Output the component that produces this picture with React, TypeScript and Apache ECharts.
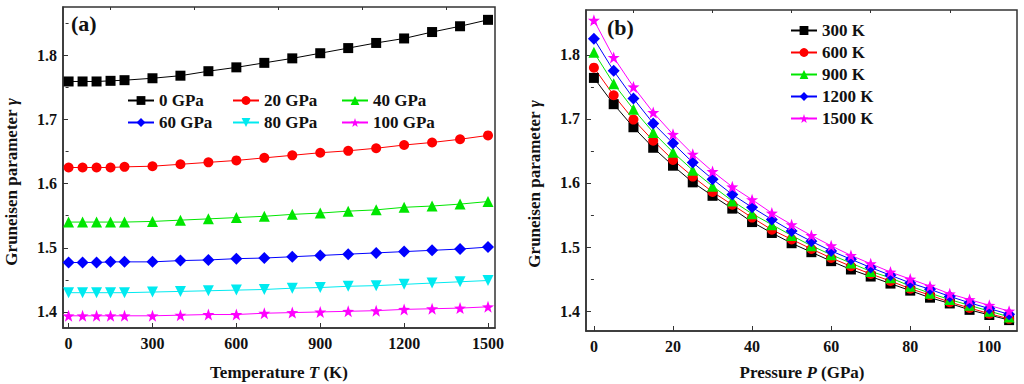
import React, { useEffect, useRef } from "react";
import * as echarts from "echarts";

// ---------- data ----------
const temps = [0, 50, 100, 150, 200, 300, 400, 500, 600, 700, 800, 900, 1000, 1100, 1200, 1300, 1400, 1500];
const gpa0 = [1.759, 1.759, 1.759, 1.760, 1.761, 1.764, 1.768, 1.775, 1.781, 1.788, 1.795, 1.803, 1.811, 1.819, 1.826, 1.836, 1.845, 1.855];
const gpa20 = [1.625, 1.625, 1.625, 1.625, 1.626, 1.627, 1.630, 1.633, 1.636, 1.640, 1.644, 1.648, 1.651, 1.655, 1.660, 1.664, 1.669, 1.675];
const gpa40 = [1.540, 1.540, 1.540, 1.540, 1.540, 1.541, 1.543, 1.545, 1.547, 1.549, 1.552, 1.554, 1.557, 1.559, 1.563, 1.565, 1.568, 1.572];
const gpa60 = [1.477, 1.477, 1.477, 1.478, 1.478, 1.478, 1.480, 1.481, 1.483, 1.484, 1.486, 1.488, 1.490, 1.492, 1.494, 1.496, 1.498, 1.501];
const gpa80 = [1.430, 1.430, 1.430, 1.430, 1.430, 1.431, 1.432, 1.433, 1.434, 1.435, 1.437, 1.438, 1.440, 1.441, 1.443, 1.445, 1.447, 1.449];
const gpa100 = [1.394, 1.394, 1.394, 1.394, 1.394, 1.394, 1.395, 1.396, 1.396, 1.398, 1.399, 1.400, 1.401, 1.402, 1.404, 1.405, 1.406, 1.408];

const pressures = [0, 5, 10, 15, 20, 25, 30, 35, 40, 45, 50, 55, 60, 65, 70, 75, 80, 85, 90, 95, 100, 105];
const k300 = [1.764, 1.723, 1.687, 1.655, 1.627, 1.601, 1.580, 1.560, 1.539, 1.522, 1.506, 1.492, 1.478, 1.465, 1.454, 1.443, 1.432, 1.421, 1.412, 1.402, 1.394, 1.386];
const k600 = [1.780, 1.737, 1.699, 1.666, 1.636, 1.610, 1.586, 1.566, 1.546, 1.527, 1.512, 1.497, 1.483, 1.470, 1.458, 1.447, 1.435, 1.425, 1.414, 1.405, 1.396, 1.388];
const k900 = [1.804, 1.755, 1.715, 1.679, 1.648, 1.620, 1.595, 1.572, 1.552, 1.535, 1.518, 1.502, 1.488, 1.475, 1.462, 1.452, 1.439, 1.428, 1.418, 1.409, 1.400, 1.391];
const k1200 = [1.825, 1.775, 1.732, 1.693, 1.662, 1.632, 1.606, 1.582, 1.562, 1.543, 1.525, 1.509, 1.494, 1.481, 1.468, 1.456, 1.444, 1.434, 1.423, 1.413, 1.404, 1.395];
const k1500 = [1.854, 1.796, 1.750, 1.710, 1.676, 1.645, 1.618, 1.594, 1.574, 1.553, 1.535, 1.518, 1.502, 1.487, 1.474, 1.461, 1.450, 1.439, 1.427, 1.418, 1.409, 1.400];

const leftNames = ["0 GPa", "20 GPa", "40 GPa", "60 GPa", "80 GPa", "100 GPa"];
const rightNames = ["300 K", "600 K", "900 K", "1200 K", "1500 K"];

const tempTicks = [0, 300, 600, 900, 1200, 1500];
const tempMinor = [150, 450, 750, 1050, 1350];
const presTicks = [0, 20, 40, 60, 80, 100];
const presMinor = [10, 30, 50, 70, 90];
const gammaTicks = [1.4, 1.5, 1.6, 1.7, 1.8];
const gammaMinor = [1.45, 1.55, 1.65, 1.75, 1.85];

// ---------- styles ----------
const STAR = "path://M50,0 L61.76,33.82 L97.55,34.55 L69.02,56.18 L79.39,90.45 L50,70 L20.61,90.45 L30.98,56.18 L2.45,34.55 L38.24,33.82 Z";
const colors = ["#000000", "#ff0000", "#00e600", "#0000ff", "#00eaf0", "#ff00ff"];
const rightColors = ["#000000", "#ff0000", "#00e600", "#0000ff", "#ff00ff"];
const symbols: any[] = [
  { symbol: "rect", size: 10, rotate: 0 },
  { symbol: "circle", size: 10, rotate: 0 },
  { symbol: "triangle", size: 11, rotate: 0 },
  { symbol: "diamond", size: 12, rotate: 0 },
  { symbol: "triangle", size: 11, rotate: 180 },
  { symbol: STAR, size: 12, rotate: 0 },
];
const rightSymbols = [symbols[0], symbols[1], symbols[2], symbols[3], symbols[5]];

const FONT = "'Liberation Serif', 'Times New Roman', serif";
const AXIS_COLOR = "#333";
const TEXT_COLOR = "#111";

export default function App() {
  const ref = useRef<HTMLDivElement>(null);

  useEffect(() => {
    if (!ref.current) return;
    const chart = echarts.init(ref.current, undefined, { renderer: "svg" });

    const leftData = [gpa0, gpa20, gpa40, gpa60, gpa80, gpa100];
    const rightData = [k300, k600, k900, k1200, k1500];

    const labelStyle = { fontFamily: FONT, fontWeight: "bold" as const, fontSize: 16, color: TEXT_COLOR };

    const mainX = (gridIndex: number, min: number, max: number, ticks: number[]) => ({
      type: "value",
      gridIndex,
      min,
      max,
      axisLine: { show: true, onZero: false, lineStyle: { color: AXIS_COLOR, width: 1.5 } },
      axisTick: { show: true, inside: true, length: 5, customValues: ticks, lineStyle: { color: AXIS_COLOR, width: 1 } },
      axisLabel: { show: true, margin: 7, customValues: ticks, formatter: (v: number) => String(Math.round(v)), ...labelStyle },
      splitLine: { show: false },
    });
    const minorX = (gridIndex: number, min: number, max: number, ticks: number[]) => ({
      type: "value",
      gridIndex,
      min,
      max,
      axisLine: { show: false },
      axisTick: { show: true, inside: true, length: 3, customValues: ticks, lineStyle: { color: AXIS_COLOR, width: 1 } },
      axisLabel: { show: false },
      splitLine: { show: false },
    });
    const mainY = (gridIndex: number, min: number, max: number) => ({
      type: "value",
      gridIndex,
      min,
      max,
      axisLine: { show: true, onZero: false, lineStyle: { color: AXIS_COLOR, width: 1.5 } },
      axisTick: { show: true, inside: true, length: 5, customValues: gammaTicks, lineStyle: { color: AXIS_COLOR, width: 1 } },
      axisLabel: { show: true, margin: 6, customValues: gammaTicks, formatter: (v: number) => v.toFixed(1), ...labelStyle },
      splitLine: { show: false },
    });
    const minorY = (gridIndex: number, min: number, max: number) => ({
      type: "value",
      gridIndex,
      min,
      max,
      axisLine: { show: false },
      axisTick: { show: true, inside: true, length: 3, customValues: gammaMinor, lineStyle: { color: AXIS_COLOR, width: 1 } },
      axisLabel: { show: false },
      splitLine: { show: false },
    });

    const series: any[] = [];
    leftNames.forEach((name, i) => {
      series.push({
        type: "line",
        name,
        xAxisIndex: 0,
        yAxisIndex: 0,
        data: temps.map((t, j) => [t, leftData[i][j]]),
        symbol: symbols[i].symbol,
        symbolSize: symbols[i].size,
        symbolRotate: symbols[i].rotate,
        itemStyle: { color: colors[i] },
        lineStyle: { color: colors[i], width: 1 },
        z: 3,
      });
    });
    rightNames.forEach((name, i) => {
      series.push({
        type: "line",
        name,
        xAxisIndex: 2,
        yAxisIndex: 2,
        data: pressures.map((p, j) => [p, rightData[i][j]]),
        symbol: rightSymbols[i].symbol,
        symbolSize: rightSymbols[i].size,
        symbolRotate: rightSymbols[i].rotate,
        itemStyle: { color: rightColors[i] },
        lineStyle: { color: rightColors[i], width: 1 },
        z: 3,
      });
    });

    const legendText = { fontFamily: FONT, fontWeight: "bold" as const, fontSize: 17, color: TEXT_COLOR, lineHeight: 16 };
    const leftLegendPos = [
      [127, 92], [232, 92], [341, 92],
      [127, 114], [232, 114], [341, 114],
    ];
    const legends: any[] = leftNames.map((name, i) => ({
      data: [name],
      left: leftLegendPos[i][0],
      top: leftLegendPos[i][1],
      padding: 0,
      itemGap: 0,
      itemWidth: 26,
      itemHeight: 11,
      textStyle: legendText,
      selectedMode: false,
    }));
    legends.push({
      data: rightNames,
      orient: "vertical",
      left: 790,
      top: 22,
      padding: 0,
      itemGap: 5,
      itemWidth: 26,
      itemHeight: 11,
      textStyle: legendText,
      selectedMode: false,
    });

    const nameRich = {
      a: { fontFamily: FONT, fontWeight: "bold", fontSize: 17, fill: TEXT_COLOR },
      b: { fontFamily: FONT, fontWeight: "bold", fontStyle: "italic", fontSize: 17, fill: TEXT_COLOR },
    };
    const textEl = (x: number, y: number, text: string, rotation = 0) => ({
      type: "text",
      x,
      y,
      rotation,
      style: {
        text,
        rich: nameRich,
        fontFamily: FONT,
        fontWeight: "bold",
        fontSize: 17,
        fill: TEXT_COLOR,
        align: "center",
        verticalAlign: "middle",
      },
    });

    chart.setOption({
      animation: false,
      backgroundColor: "#ffffff",
      grid: [
        { left: 63, top: 7, width: 432, height: 321, show: true, borderColor: AXIS_COLOR, borderWidth: 1.5, containLabel: false },
        { left: 586, top: 10, width: 431, height: 321, show: true, borderColor: AXIS_COLOR, borderWidth: 1.5, containLabel: false },
      ],
      xAxis: [
        mainX(0, -20, 1525, tempTicks),
        minorX(0, -20, 1525, tempMinor),
        mainX(1, -2, 107, presTicks),
        minorX(1, -2, 107, presMinor),
      ],
      yAxis: [
        mainY(0, 1.375, 1.875),
        minorY(0, 1.375, 1.875),
        mainY(1, 1.369, 1.870),
        minorY(1, 1.369, 1.870),
      ],
      legend: legends,
      series,
      graphic: [
        {
          type: "text",
          left: 71,
          top: 12,
          style: { text: "(a)", fontFamily: FONT, fontWeight: "bold", fontSize: 22, fill: TEXT_COLOR },
        },
        {
          type: "text",
          left: 607,
          top: 16,
          style: { text: "(b)", fontFamily: FONT, fontWeight: "bold", fontSize: 22, fill: TEXT_COLOR },
        },
        textEl(11, 182, "{a|Gruneisen parameter }{b|γ}", Math.PI / 2),
        textEl(534, 184, "{a|Gruneisen parameter }{b|γ}", Math.PI / 2),
        textEl(279, 372, "{a|Temperature }{b|T}{a| (K)}"),
        textEl(802, 372, "{a|Pressure }{b|P}{a| (GPa)}"),
      ],
    });

    return () => chart.dispose();
  }, []);

  return (
    <div
      ref={ref}
      style={{ position: "fixed", left: 0, top: 0, width: 1024, height: 384, background: "#fff" }}
    />
  );
}
